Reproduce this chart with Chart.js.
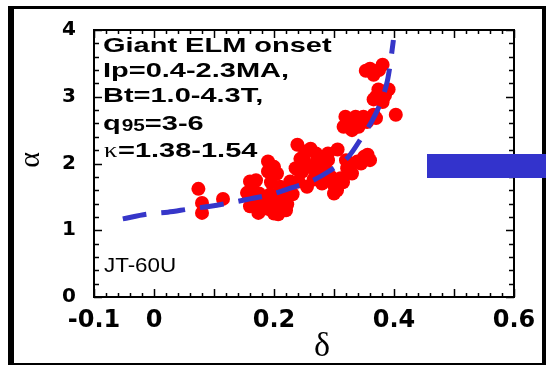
<!DOCTYPE html>
<html>
<head>
<meta charset="utf-8">
<script src="https://cdn.jsdelivr.net/npm/chart.js@4.4.0/dist/chart.umd.min.js"></script>
<style>
  html, body { margin: 0; padding: 0; background: #fff; }
  canvas { display: block; }
</style>
</head>
<body>
<canvas id="elmChart" width="546" height="365"></canvas>
<script>
// fitted onset curve (dashed blue)
const fitDelta = [-0.052, -0.012, 0.023, 0.060, 0.094, 0.127, 0.160, 0.197, 0.227, 0.261, 0.291, 0.324, 0.344, 0.364, 0.378, 0.389, 0.394, 0.399];
const fitAlpha = [1.17, 1.24, 1.27, 1.32, 1.36, 1.41, 1.47, 1.54, 1.63, 1.73, 1.88, 2.10, 2.36, 2.65, 2.92, 3.24, 3.51, 3.85];

// giant ELM onset points (red)
const elmDelta = [0.074, 0.080, 0.080, 0.115, 0.160, 0.155, 0.160, 0.180, 0.174, 0.190, 0.190, 0.194, 0.210, 0.207,
  0.222, 0.231, 0.227, 0.236, 0.239, 0.252, 0.247, 0.261, 0.244, 0.272, 0.239, 0.282, 0.266, 0.241, 0.306, 0.356,
  0.339, 0.322, 0.311, 0.299, 0.304, 0.316, 0.319, 0.336, 0.349, 0.366, 0.341, 0.403, 0.366, 0.381, 0.374, 0.391,
  0.353, 0.366, 0.381,
  0.170, 0.185, 0.200, 0.215, 0.220, 0.200, 0.190, 0.165, 0.170, 0.175, 0.195, 0.205, 0.210, 0.200,
  0.250, 0.260, 0.270, 0.285, 0.290, 0.295, 0.255, 0.280, 0.270, 0.290,
  0.320, 0.330, 0.345, 0.350, 0.360, 0.315, 0.300, 0.305,
  0.325, 0.330, 0.355, 0.370, 0.385, 0.370, 0.360, 0.375];
const elmAlpha = [1.62, 1.41, 1.26, 1.47, 1.73, 1.56, 1.36, 1.33, 1.26, 2.03, 1.88, 1.54, 1.33, 1.24,
  1.39, 1.54, 1.73, 1.93, 2.28, 2.18, 1.88, 2.22, 2.07, 2.03, 1.91, 1.85, 1.76, 1.73, 2.21, 2.13,
  2.03, 1.93, 1.78, 1.69, 1.62, 2.55, 2.70, 2.70, 2.70, 2.73, 2.55, 2.73, 2.96, 2.92, 3.11, 3.11,
  3.39, 3.33, 3.48,
  1.45, 1.40, 1.45, 1.48, 1.30, 1.25, 1.32, 1.62, 1.75, 1.55, 1.72, 1.85, 1.65, 1.95,
  2.05, 1.95, 1.85, 1.95, 2.05, 1.80, 1.65, 1.70, 2.15, 2.15,
  2.05, 1.85, 2.00, 2.10, 2.05, 1.72, 1.55, 1.60,
  2.65, 2.50, 2.62, 2.68, 3.02, 3.00, 3.42, 3.40];

const xTickLabels = [-0.1, 0, 0.2, 0.4, 0.6];
const yTickLabels = [0, 1, 2, 3, 4];

// draws text squeezed/stretched horizontally, returns its drawn width
function wideText(ctx, str, x, y, font, sx) {
    ctx.save();
    ctx.font = font;
    const w = ctx.measureText(str).width * sx;
    ctx.translate(x, y);
    ctx.scale(sx, 1);
    ctx.fillText(str, 0, 0);
    ctx.restore();
    return w;
}

const decor = {
    id: 'decor',
    beforeDatasetsDraw(chart) {
        const ctx = chart.ctx;
        const a = chart.chartArea;
        const xs = chart.scales.x, ys = chart.scales.y;
        ctx.save();
        ctx.strokeStyle = '#000';
        ctx.lineWidth = 2;
        ctx.strokeRect(a.left, a.top, a.right - a.left, a.bottom - a.top);
        ctx.lineWidth = 1.5;
        ctx.beginPath();
        // x ticks every 0.02, longer at 0.1
        for (let i = -5; i <= 30; i++) {
            const px = Math.round(xs.getPixelForValue(i * 0.02)) + 0.5;
            const len = i % 5 === 0 ? 8 : 4;
            ctx.moveTo(px, a.bottom); ctx.lineTo(px, a.bottom - len);
            ctx.moveTo(px, a.top); ctx.lineTo(px, a.top + len);
        }
        // y ticks every 0.2, longer at integers
        for (let j = 0; j <= 20; j++) {
            const py = Math.round(ys.getPixelForValue(j * 0.2)) + 0.5;
            const len = j % 5 === 0 ? 8 : 5;
            ctx.moveTo(a.left, py); ctx.lineTo(a.left + len, py);
            ctx.moveTo(a.right, py); ctx.lineTo(a.right - len, py);
        }
        ctx.stroke();
        ctx.restore();
    },
    afterDraw(chart) {
        const ctx = chart.ctx;
        ctx.save();
        ctx.fillStyle = '#000';
        ctx.textBaseline = 'alphabetic';
        ctx.textAlign = 'left';

        // annotation block
        const f = 'bold 21px "Liberation Sans", Arial, sans-serif';
        const sx = 1.38;
        wideText(ctx, 'Giant ELM onset', 103, 52, f, sx);
        wideText(ctx, 'Ip=0.4-2.3MA,', 103, 77, f, sx);
        wideText(ctx, 'Bt=1.0-4.3T,', 103, 102, f, sx);
        let x = 103;
        x += wideText(ctx, 'q', x, 130, f, sx);
        x += wideText(ctx, '95', x + 1, 131, 'bold 16px "Liberation Sans", Arial, sans-serif', 1.3) + 1;
        wideText(ctx, '=3-6', x, 130, f, sx);
        wideText(ctx, '\u03ba', 104, 157, '22px "Liberation Serif", "Times New Roman", serif', 1.2);
        wideText(ctx, '=1.38-1.54', 118, 157, f, sx);

        wideText(ctx, 'JT-60U', 104, 272, '20px "Liberation Sans", Arial, sans-serif', 1.12);

        // axis titles
        ctx.font = '34px "Liberation Serif", "Times New Roman", serif';
        ctx.textAlign = 'center';
        ctx.fillText('\u03b4', 322, 356);
        ctx.save();
        ctx.translate(39, 160);
        ctx.rotate(-Math.PI / 2);
        ctx.font = '30px "Liberation Serif", "Times New Roman", serif';
        ctx.fillText('\u03b1', 0, 0);
        ctx.restore();

        // outer frame
        ctx.fillRect(8, 6, 6, 359);
        ctx.fillRect(8, 6, 538, 3);
        ctx.fillRect(542, 6, 4, 359);
        ctx.fillRect(8, 363, 538, 2);

        // blue marker bar on the right
        ctx.fillStyle = '#3333cc';
        ctx.fillRect(427, 154, 119, 24);
        ctx.restore();
    }
};

const ctx = document.getElementById('elmChart').getContext('2d');

const myChart = new Chart(ctx, {
    type: 'scatter',
    data: {
        datasets: [
            {
                data: fitDelta.map((d, i) => ({ x: d, y: fitAlpha[i] })),
                showLine: true,
                borderColor: '#3636c9',
                borderWidth: 5,
                borderDash: [24, 15],
                pointRadius: 0,
                cubicInterpolationMode: 'monotone',
                order: 0
            },
            {
                data: elmDelta.map((d, i) => ({ x: d, y: elmAlpha[i] })),
                backgroundColor: '#ff0000',
                borderWidth: 0,
                pointRadius: 7,
                pointHoverRadius: 7,
                order: 1
            }
        ]
    },
    options: {
        responsive: false,
        animation: false,
        devicePixelRatio: 1,
        layout: { padding: { top: 27, right: 32, left: 0, bottom: 0 } },
        plugins: { legend: { display: false }, tooltip: { enabled: false } },
        scales: {
            x: {
                type: 'linear',
                min: -0.1,
                max: 0.6,
                afterBuildTicks: s => { s.ticks = xTickLabels.map(v => ({ value: v })); },
                afterFit: s => { s.height = 68; },
                grid: { display: false, drawTicks: false },
                border: { display: false },
                ticks: {
                    autoSkip: false,
                    maxRotation: 0,
                    padding: 9,
                    color: '#000',
                    font: { family: '"DejaVu Sans"', weight: 'bold', size: 24 },
                    callback: v => (v === 0 ? '0' : String(v))
                }
            },
            y: {
                type: 'linear',
                min: 0,
                max: 4,
                afterBuildTicks: s => { s.ticks = yTickLabels.map(v => ({ value: v })); },
                afterFit: s => { s.width = 94; },
                grid: { display: false, drawTicks: false },
                border: { display: false },
                ticks: {
                    padding: 18,
                    color: '#000',
                    font: { family: '"DejaVu Sans"', weight: 'bold', size: 20 },
                    callback: v => String(v)
                }
            }
        }
    },
    plugins: [decor]
});
</script>
</body>
</html>
